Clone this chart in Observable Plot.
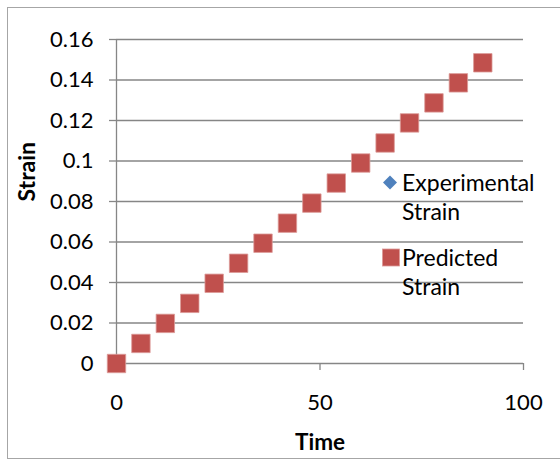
<!DOCTYPE html>
<html>
<head>
<meta charset="utf-8">
<script src="https://cdn.jsdelivr.net/npm/d3@7"></script>
<script src="https://cdn.jsdelivr.net/npm/@observablehq/plot@0.6"></script>
<style>
  html, body { margin: 0; padding: 0; background: #fff; }
  #wrap { position: relative; width: 560px; height: 461px; overflow: hidden; font-family: Lato, "Open Sans", sans-serif; }
  #border { position: absolute; left: 7px; top: 7px; width: 600px; height: 452px; border: 1px solid #a6a6a6; box-sizing: border-box; }
  #chart { position: absolute; left: 0; top: 0; }
  .leg { position: absolute; font-size: 23px; color: #000; line-height: 29px; }
  .leg svg { position: absolute; left: 0; top: 0; }
</style>
</head>
<body>
<div id="wrap">
  <div id="border"></div>
  <div id="chart"></div>
</div>
<script>
// Data
const time = [0, 6, 12, 18, 24, 30, 36, 42, 48, 54, 60, 66, 72, 78, 84, 90];
const experimentalStrain = [0, 0.0097, 0.0195, 0.0294, 0.0393, 0.0492, 0.0591, 0.0689, 0.0788, 0.0887, 0.0986, 0.1085, 0.1184, 0.1283, 0.1381, 0.1478];
const predictedStrain = [0, 0.0099, 0.0198, 0.0297, 0.0396, 0.0495, 0.0594, 0.0693, 0.0792, 0.0891, 0.099, 0.1089, 0.1188, 0.1287, 0.1386, 0.1485];
const xTicks = [0, 50, 100];
const yTicks = [0, 0.02, 0.04, 0.06, 0.08, 0.1, 0.12, 0.14, 0.16];
const yTickLabels = ["0", "0.02", "0.04", "0.06", "0.08", "0.1", "0.12", "0.14", "0.16"];
const seriesNames = ["Experimental Strain", "Predicted Strain"];
const seriesColors = ["#4F81BD", "#C0504D"];

const expData = time.map((t, i) => ({time: t, strain: experimentalStrain[i]}));
const predData = time.map((t, i) => ({time: t, strain: predictedStrain[i]}));

const gridColor = "#868686";
const font = "Lato, 'Open Sans', sans-serif";
const yFmt = (d) => yTickLabels[yTicks.findIndex(v => Math.abs(v - d) < 1e-9)];

const plot = Plot.plot({
  width: 560,
  height: 461,
  marginLeft: 116,
  marginRight: 37,
  marginTop: 39,
  marginBottom: 98,
  style: {fontFamily: font, fontSize: "22px", color: "#000", background: "transparent", overflow: "visible"},
  x: {domain: [0, 100], label: null},
  y: {domain: [0, 0.16], label: null},
  marks: [
    Plot.ruleY(yTicks, {stroke: gridColor, strokeWidth: 1.3}),
    Plot.ruleX([0], {stroke: gridColor, strokeWidth: 1.3}),
    Plot.axisY({ticks: yTicks, tickSize: 7, stroke: gridColor, strokeWidth: 1.3, tickPadding: 16,
      tickFormat: yFmt, fill: "#000", label: null}),
    Plot.axisX({ticks: xTicks, tickSize: 7, stroke: gridColor, strokeWidth: 1.3, tickPadding: 24, fill: "#000", label: null}),
    Plot.dot(expData, {x: "time", y: "strain", symbol: "diamond2", r: 6, fill: seriesColors[0], stroke: "none"}),
    Plot.dot(predData, {x: "time", y: "strain", symbol: "square", r: 10.4, fill: seriesColors[1], stroke: "#dc9a98", strokeWidth: 0.8}),
    Plot.text(["Time"], {frameAnchor: "bottom", lineAnchor: "middle", dy: 79, fontWeight: "bold", fontSize: 22.5, fill: "#000"}),
    Plot.text(["Strain"], {frameAnchor: "left", lineAnchor: "middle", dx: -89, rotate: -90, fontWeight: "bold", fontSize: 23, fill: "#000"})
  ]
});
document.getElementById("chart").appendChild(plot);

// Legend (HTML overlay)
const wrap = document.getElementById("wrap");
const legPos = [{left: 382, top: 168}, {left: 382, top: 243}];
seriesNames.forEach((name, i) => {
  const d = document.createElement("div");
  d.className = "leg";
  d.style.left = legPos[i].left + "px";
  d.style.top = legPos[i].top + "px";
  const words = name.split(" ");
  const sym = i === 0
    ? `<svg width="18" height="29"><path d="M8,7.5 L15,14.5 L8,21.5 L1,14.5 Z" fill="${seriesColors[0]}"/></svg>`
    : `<svg width="18" height="29"><rect x="0.5" y="6" width="17" height="17" fill="${seriesColors[1]}" stroke="#dc9a98" stroke-width="0.8"/></svg>`;
  d.innerHTML = sym + `<div style="margin-left:20px;white-space:nowrap">${words[0]}</div><div style="margin-left:20px">${words[1]}</div>`;
  wrap.appendChild(d);
});
</script>
</body>
</html>
